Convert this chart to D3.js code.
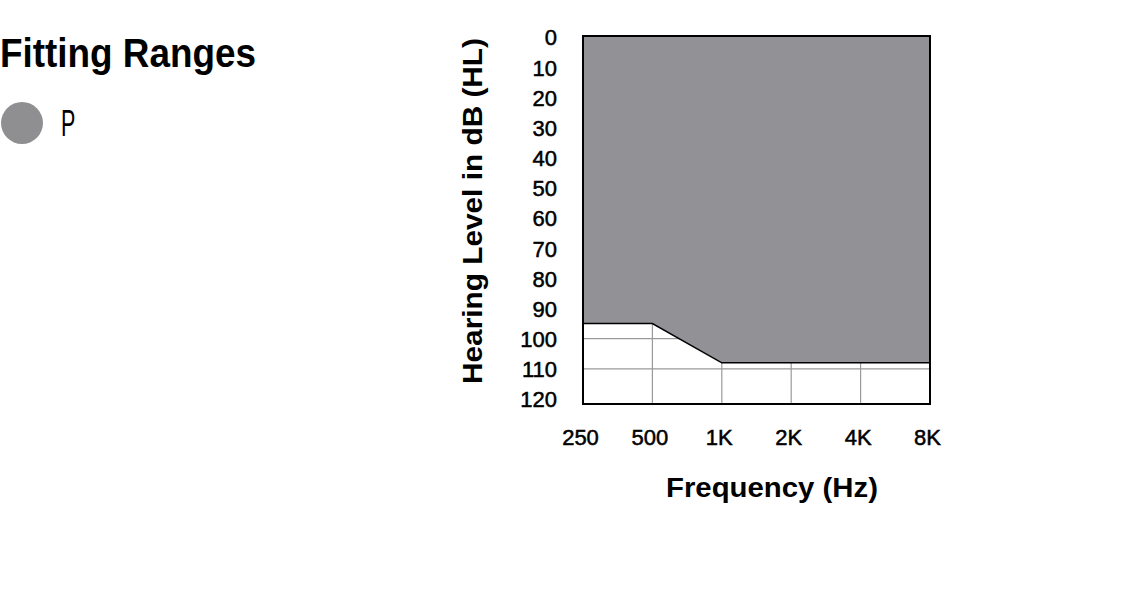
<!DOCTYPE html>
<html>
<head>
<meta charset="utf-8">
<script src="https://cdn.jsdelivr.net/npm/d3@7"></script>
<style>
  body { margin: 0; background: #fff; }
  text { font-family: "Liberation Sans", Arial, sans-serif; fill: #000; }
</style>
</head>
<body>
<svg id="chart" width="1140" height="600"></svg>
<script>
// data
const freqTicks = [250, 500, 1000, 2000, 4000, 8000];
const freqLabels = ["250", "500", "1K", "2K", "4K", "8K"];
const levelTicks = [0, 10, 20, 30, 40, 50, 60, 70, 80, 90, 100, 110, 120];
const rangeFreq = [250, 500, 1000, 8000];
const rangeLower = [95, 95, 108, 108];
const legendLabels = ["P"];

drawChart();

function drawChart () {
  const svg = d3.select("#chart");
  const left = 583, right = 930, top = 37, bottom = 399;

  const x = d3.scaleLog().base(2)
    .domain([250, 8000])
    .range([left, right]);
  const y = d3.scaleLinear()
    .domain([0, 120])
    .range([top, bottom]);

  const frameTop = y(0) - 1;
  const frameBottom = y(120) + 5;

  // grid lines
  svg.append("g")
    .selectAll("line.v")
    .data(freqTicks.slice(1, -1))
    .enter().append("line")
      .attr("x1", d => x(d)).attr("x2", d => x(d))
      .attr("y1", frameTop).attr("y2", frameBottom)
      .attr("stroke", "#9a9a9a").attr("stroke-width", 1.2);

  svg.append("g")
    .selectAll("line.h")
    .data(levelTicks.slice(1, -1))
    .enter().append("line")
      .attr("x1", left).attr("x2", right)
      .attr("y1", d => y(d)).attr("y2", d => y(d))
      .attr("stroke", "#9a9a9a").attr("stroke-width", 1.2);

  // fitting range area
  const pts = rangeFreq.map((f, i) => ({ f: f, v: rangeLower[i] }));
  const area = d3.area()
    .x(d => x(d.f))
    .y0(frameTop)
    .y1(d => y(d.v));
  svg.append("path")
    .datum(pts)
    .attr("d", area)
    .attr("fill", "#929195");
  svg.append("path")
    .datum(pts)
    .attr("d", d3.line().x(d => x(d.f)).y(d => y(d.v)))
    .attr("fill", "none")
    .attr("stroke", "#000")
    .attr("stroke-width", 1.5);

  // frame
  svg.append("rect")
    .attr("x", left).attr("y", frameTop)
    .attr("width", right - left).attr("height", frameBottom - frameTop)
    .attr("fill", "none").attr("stroke", "#000").attr("stroke-width", 2);

  // y axis labels
  const yAxis = d3.axisLeft(y).tickValues(levelTicks).tickSize(0).tickPadding(0);
  const gy = svg.append("g")
    .attr("transform", "translate(557,0)")
    .call(yAxis);
  gy.select(".domain").remove();
  gy.selectAll("text")
    .attr("dy", "0.36em")
    .style("font-size", "22px")
    .style("font-family", "'Liberation Sans', Arial, sans-serif")
    .attr("fill", "#000")
    .attr("stroke", "#000").attr("stroke-width", 0.5);

  // x axis labels
  const xAxis = d3.axisBottom(x).tickValues(freqTicks)
    .tickFormat((d, i) => freqLabels[i]).tickSize(0).tickPadding(0);
  const gx = svg.append("g")
    .attr("transform", "translate(-3,445)")
    .call(xAxis);
  gx.select(".domain").remove();
  gx.selectAll("text")
    .attr("dy", 0)
    .style("font-size", "22px")
    .style("font-family", "'Liberation Sans', Arial, sans-serif")
    .attr("fill", "#000")
    .attr("stroke", "#000").attr("stroke-width", 0.5);

  // axis titles
  svg.append("text")
    .attr("x", 772).attr("y", 497)
    .attr("text-anchor", "middle")
    .attr("textLength", 212).attr("lengthAdjust", "spacingAndGlyphs")
    .style("font-size", "27px").style("font-weight", "bold")
    .text("Frequency (Hz)");
  svg.append("text")
    .attr("transform", "translate(482,211) rotate(-90)")
    .attr("text-anchor", "middle")
    .attr("textLength", 346).attr("lengthAdjust", "spacingAndGlyphs")
    .style("font-size", "28px").style("font-weight", "bold")
    .text("Hearing Level in dB (HL)");

  // title + legend
  svg.append("text")
    .attr("x", 0).attr("y", 67)
    .attr("textLength", 256).attr("lengthAdjust", "spacingAndGlyphs")
    .style("font-size", "40px").style("font-weight", "bold")
    .text("Fitting Ranges");

  const legend = svg.append("g").selectAll("g")
    .data(legendLabels)
    .enter().append("g")
      .attr("transform", (d, i) => `translate(0,${123 + i * 50})`);
  legend.append("circle")
    .attr("cx", 22).attr("cy", 0).attr("r", 21)
    .attr("fill", "#8f8f91");
  legend.append("text")
    .attr("transform", "translate(61,13) scale(0.58,1)")
    .style("font-size", "37px")
    .text(d => d);
}
</script>
</body>
</html>
